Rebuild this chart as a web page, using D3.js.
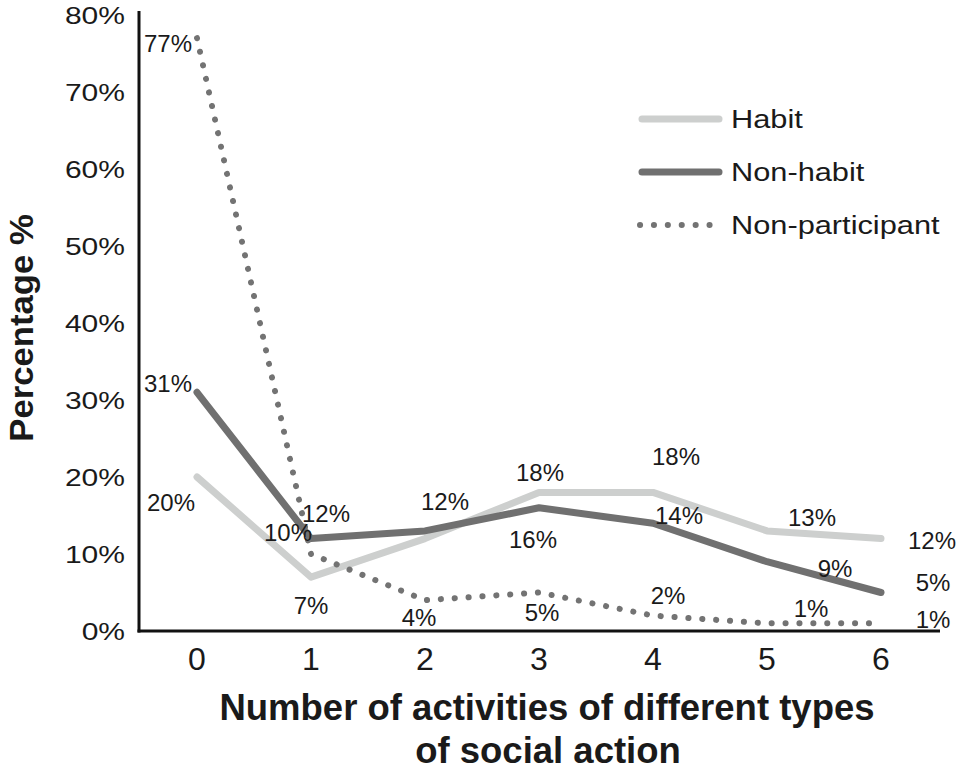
<!DOCTYPE html>
<html>
<head>
<meta charset="utf-8">
<script src="https://cdn.jsdelivr.net/npm/d3@7.9.0/dist/d3.min.js"></script>
<style>
  body { margin: 0; background: #fff; }
  svg text { font-family: "Liberation Sans", Arial, sans-serif; fill: #1a1a1a; }
</style>
</head>
<body>
<svg id="chart" width="956" height="771"></svg>
<script>
// data
const categories = [0, 1, 2, 3, 4, 5, 6];
const yTicks = [0, 0.1, 0.2, 0.3, 0.4, 0.5, 0.6, 0.7, 0.8];
const seriesNames = ["Habit", "Non-habit", "Non-participant"];
const habit = [0.20, 0.07, 0.12, 0.18, 0.18, 0.13, 0.12];
const nonHabit = [0.31, 0.12, 0.13, 0.16, 0.14, 0.09, 0.05];
const nonParticipant = [0.77, 0.10, 0.04, 0.05, 0.02, 0.01, 0.01];
// which points carry a printed label (one at x=2 is hidden in the source)
const showLabel = [
  [1, 1, 1, 1, 1, 1, 1],
  [1, 1, 0, 1, 1, 1, 1],
  [1, 1, 1, 1, 1, 1, 1]
];

// label offsets from each point (px), tuned to the source
const labelOffsets = [
  [[-26, 25], [0, 28], [20, -37], [1, -20], [23, -36], [45, -14], [51, 2]],
  [[-29, -9], [15, -25], [0, 0], [-6, 32], [26, -8], [68, 7], [52, -10]],
  [[-29, 5], [-23, -22], [-6, 17], [3, 20], [15, -20], [44, -15], [52, -4]]
];

const styles = [
  { color: "#cdcfce", width: 7, dash: null },
  { color: "#707070", width: 7, dash: null },
  { color: "#737373", width: 6, dash: "0.1 13.8" }
];

const svg = d3.select("#chart");

const x = d3.scalePoint().domain(categories).range([197, 881]);
const y = d3.scaleLinear().domain([0, 0.8]).range([631, 15]);

// the source stretches some of its text sideways
function stretch(sel, f) {
  sel.each(function () {
    const w = this.getComputedTextLength();
    d3.select(this).attr("textLength", w * f).attr("lengthAdjust", "spacingAndGlyphs");
  });
}

// y axis
svg.append("line")
  .attr("x1", 139).attr("x2", 139)
  .attr("y1", 11).attr("y2", 632.5)
  .attr("stroke", "#111").attr("stroke-width", 3);
// x axis
svg.append("line")
  .attr("x1", 137.5).attr("x2", 940)
  .attr("y1", 631).attr("y2", 631)
  .attr("stroke", "#111").attr("stroke-width", 3);

svg.append("g").selectAll("text")
  .data(yTicks)
  .join("text")
  .attr("x", 125)
  .attr("y", d => y(d))
  .attr("dy", "0.36em")
  .attr("text-anchor", "end")
  .style("font-size", "24px")
  .text(d => d3.format(".0%")(d))
  .call(stretch, 1.25);

svg.append("g").selectAll("text")
  .data(categories)
  .join("text")
  .attr("x", d => x(d))
  .attr("y", 658)
  .attr("dy", "0.36em")
  .attr("text-anchor", "middle")
  .style("font-family", "'Liberation Sans Narrow', 'Liberation Sans', Arial, sans-serif")
  .style("font-size", "32px")
  .text(d => d);

// axis titles
const xTitle = svg.append("g")
  .style("font-family", "'Liberation Sans Narrow', 'Liberation Sans', Arial, sans-serif")
  .style("font-weight", "bold")
  .style("font-size", "36.5px");
xTitle.append("text")
  .attr("x", 547).attr("y", 720)
  .attr("text-anchor", "middle")
  .text("Number of activities of different types");
xTitle.append("text")
  .attr("x", 548).attr("y", 763)
  .attr("text-anchor", "middle")
  .text("of social action");

svg.append("text")
  .attr("transform", "translate(33,328) rotate(-90)")
  .attr("text-anchor", "middle")
  .style("font-weight", "bold")
  .style("font-size", "34px")
  .text("Percentage %")
  .call(stretch, 1.02);

// lines
const allSeries = [habit, nonHabit, nonParticipant];
const line = d3.line()
  .x((d, i) => x(categories[i]))
  .y(d => y(d));

svg.append("g").selectAll("path")
  .data(allSeries)
  .join("path")
  .attr("d", d => line(d))
  .attr("fill", "none")
  .attr("stroke", (d, i) => styles[i].color)
  .attr("stroke-width", (d, i) => styles[i].width)
  .attr("stroke-linecap", "round")
  .attr("stroke-linejoin", "round")
  .attr("stroke-dasharray", (d, i) => styles[i].dash);

// data labels
allSeries.forEach((s, si) => {
  svg.append("g").selectAll("text")
    .data(s.map((v, i) => ({ v, i })).filter(d => showLabel[si][d.i]))
    .join("text")
    .attr("x", d => x(categories[d.i]) + labelOffsets[si][d.i][0])
    .attr("y", d => y(d.v) + labelOffsets[si][d.i][1])
    .attr("dy", "0.36em")
    .attr("text-anchor", "middle")
    .style("font-size", "24px")
    .text(d => d3.format(".0%")(d.v));
});

// legend
const legend = svg.append("g");
seriesNames.forEach((name, i) => {
  const ly = 119 + i * 53;
  const dotted = styles[i].dash != null;
  legend.append("line")
    .attr("x1", dotted ? 640 : 642).attr("x2", dotted ? 711 : 719)
    .attr("y1", ly).attr("y2", ly)
    .attr("stroke", styles[i].color)
    .attr("stroke-width", styles[i].width)
    .attr("stroke-linecap", "round")
    .attr("stroke-dasharray", styles[i].dash);
  legend.append("text")
    .attr("x", 731).attr("y", ly)
    .attr("dy", "0.36em")
    .style("font-size", "25px")
    .text(name)
    .call(stretch, 1.23);
});
</script>
</body>
</html>
